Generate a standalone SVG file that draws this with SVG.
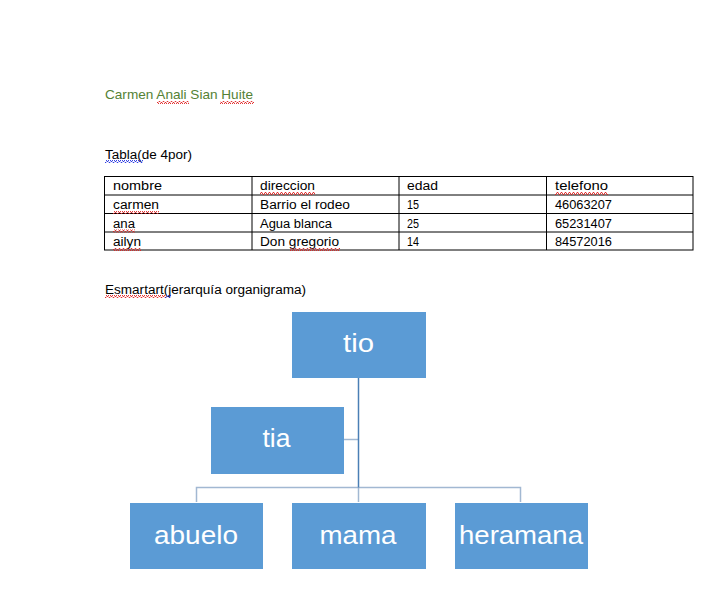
<svg xmlns="http://www.w3.org/2000/svg" width="725" height="611" viewBox="0 0 725 611">
<defs>
<pattern id="wr" width="4" height="3" patternUnits="userSpaceOnUse"><path d="M0,2.5 L1,0.5 L2,0.5 L3,2.5 L4,2.5" fill="none" stroke="#e02020" stroke-width="0.9"/></pattern>
<pattern id="wb" width="4" height="3" patternUnits="userSpaceOnUse"><path d="M0,2.5 L1,0.5 L2,0.5 L3,2.5 L4,2.5" fill="none" stroke="#2030e0" stroke-width="0.9"/></pattern>
</defs>
<style>
.t{font-family:"Liberation Sans",Arial,sans-serif;font-size:12.5px;fill:#000}
.ti{font-family:"Liberation Sans",Arial,sans-serif;font-size:13px;fill:#548235}
.box{fill:#5b9bd5}
.bt{font-family:"Liberation Sans",Arial,sans-serif;font-size:25px;fill:#fff;text-anchor:middle}
.grid{stroke:#000;stroke-width:1;fill:none}
.cv{stroke:#4a7fb5;stroke-width:1.5;fill:none}
.ch{stroke:#a2b8d2;stroke-width:1.5;fill:none}
</style>
<rect width="725" height="611" fill="#fff"/>
<text class="ti" x="105" y="99" textLength="148" lengthAdjust="spacingAndGlyphs">Carmen  Anali Sian Huite</text>
<rect x="157" y="101" width="32" height="3" fill="url(#wr)"/>
<rect x="220" y="101" width="34" height="3" fill="url(#wr)"/>
<text class="t" x="105" y="159" textLength="87" lengthAdjust="spacingAndGlyphs">Tabla(de 4por)</text>
<rect x="105" y="160" width="38" height="3" fill="url(#wb)"/>
<g id="table">
<rect class="grid" x="104.5" y="176.5" width="588.5" height="73.5"/>
<line class="grid" x1="104.5" y1="195" x2="693" y2="195"/>
<line class="grid" x1="104.5" y1="213.5" x2="693" y2="213.5"/>
<line class="grid" x1="104.5" y1="232" x2="693" y2="232"/>
<line class="grid" x1="252" y1="176.5" x2="252" y2="250"/>
<line class="grid" x1="399" y1="176.5" x2="399" y2="250"/>
<line class="grid" x1="546.5" y1="176.5" x2="546.5" y2="250"/>
<text class="t" x="113" y="190" textLength="49" lengthAdjust="spacingAndGlyphs">nombre</text>
<text class="t" x="260" y="190" textLength="55" lengthAdjust="spacingAndGlyphs">direccion</text>
<text class="t" x="407" y="190" textLength="31" lengthAdjust="spacingAndGlyphs">edad</text>
<text class="t" x="555" y="190" textLength="53" lengthAdjust="spacingAndGlyphs">telefono</text>
<text class="t" x="113" y="209" textLength="46" lengthAdjust="spacingAndGlyphs">carmen</text>
<text class="t" x="260" y="209" textLength="90" lengthAdjust="spacingAndGlyphs">Barrio el rodeo</text>
<text class="t" x="407" y="209" textLength="12" lengthAdjust="spacingAndGlyphs">15</text>
<text class="t" x="555" y="209" textLength="57" lengthAdjust="spacingAndGlyphs">46063207</text>
<text class="t" x="113" y="227.5" textLength="22" lengthAdjust="spacingAndGlyphs">ana</text>
<text class="t" x="260" y="227.5" textLength="72" lengthAdjust="spacingAndGlyphs">Agua blanca</text>
<text class="t" x="407" y="227.5" textLength="12" lengthAdjust="spacingAndGlyphs">25</text>
<text class="t" x="555" y="227.5" textLength="57" lengthAdjust="spacingAndGlyphs">65231407</text>
<text class="t" x="113" y="246" textLength="28" lengthAdjust="spacingAndGlyphs">ailyn</text>
<text class="t" x="260" y="246" textLength="79" lengthAdjust="spacingAndGlyphs">Don gregorio</text>
<text class="t" x="407" y="246" textLength="12" lengthAdjust="spacingAndGlyphs">14</text>
<text class="t" x="555" y="246" textLength="57" lengthAdjust="spacingAndGlyphs">84572016</text>
<rect x="260" y="192" width="55" height="3" fill="url(#wr)"/>
<rect x="555" y="192" width="53" height="3" fill="url(#wr)"/>
<rect x="113" y="211" width="46" height="3" fill="url(#wr)"/>
<rect x="113" y="229.5" width="22" height="3" fill="url(#wr)"/>
<rect x="113" y="248" width="28" height="3" fill="url(#wr)"/>
<rect x="290" y="248" width="50" height="3" fill="url(#wr)"/>
</g>
<text class="t" x="105" y="294" textLength="201" lengthAdjust="spacingAndGlyphs">Esmartart(jerarquía organigrama)</text>
<rect x="105" y="295" width="62" height="3" fill="url(#wr)"/>
<rect x="165" y="295" width="6" height="3" fill="url(#wb)"/>
<g id="connectors">
<path class="ch" d="M196.5,502 V487.5 H520.5 V502"/>
<path class="ch" d="M358.5,487.5 V502"/>
<path class="ch" d="M344,439.5 H358.5"/>
<path class="cv" d="M358.5,378 V487.5"/>
</g>
<g id="tio"><rect class="box" x="292" y="312" width="134" height="66"/><text class="bt" x="358.5" y="352" textLength="31" lengthAdjust="spacingAndGlyphs">tio</text></g>
<g id="tia"><rect class="box" x="211" y="407" width="133" height="67"/><text class="bt" x="276.5" y="447" textLength="28" lengthAdjust="spacingAndGlyphs">tia</text></g>
<g id="abuelo"><rect class="box" x="130" y="503" width="133" height="66"/><text class="bt" x="196" y="544" textLength="84" lengthAdjust="spacingAndGlyphs">abuelo</text></g>
<g id="mama"><rect class="box" x="292" y="503" width="134" height="66"/><text class="bt" x="358" y="544" textLength="77" lengthAdjust="spacingAndGlyphs">mama</text></g>
<g id="heramana"><rect class="box" x="455" y="503" width="133" height="66"/><text class="bt" x="521" y="544" textLength="124" lengthAdjust="spacingAndGlyphs">heramana</text></g>
</svg>
